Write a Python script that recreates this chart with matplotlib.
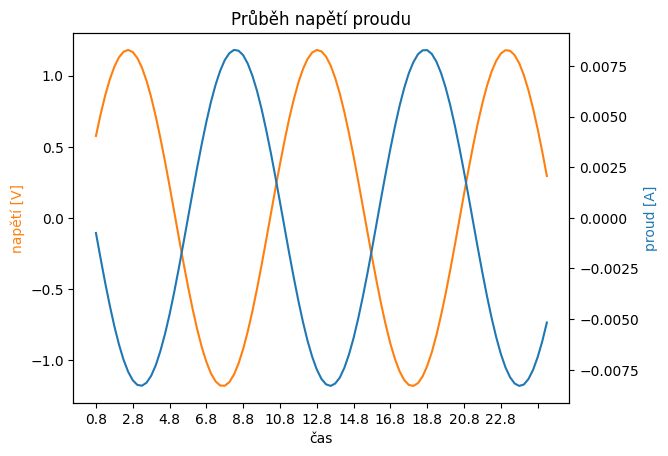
import numpy as np
import matplotlib
matplotlib.use("Agg")
import matplotlib.pyplot as plt

# time axis, step 0.25
cas = [0.8 + 0.25 * k for k in range(99)]

napeti = [0.576, 0.726, 0.859, 0.972, 1.062, 1.128, 1.167, 1.180, 1.165, 1.123,
          1.055, 0.963, 0.848, 0.713, 0.562, 0.398, 0.225, 0.046, -0.134, -0.310,
          -0.479, -0.637, -0.781, -0.906, -1.010, -1.092, -1.147, -1.176, -1.178, -1.152,
          -1.099, -1.021, -0.919, -0.796, -0.655, -0.498, -0.330, -0.154, 0.026, 0.205,
          0.379, 0.544, 0.697, 0.833, 0.951, 1.046, 1.117, 1.162, 1.180, 1.170,
          1.134, 1.071, 0.983, 0.873, 0.742, 0.594, 0.432, 0.260, 0.082, -0.097,
          -0.275, -0.446, -0.607, -0.753, -0.883, -0.991, -1.077, -1.138, -1.172, -1.179,
          -1.159, -1.112, -1.038, -0.942, -0.823, -0.684, -0.531, -0.365, -0.190, -0.011,
          0.169, 0.344, 0.512, 0.667, 0.807, 0.929, 1.029, 1.104, 1.155, 1.178,
          1.174, 1.143, 1.086, 1.003, 0.897, 0.769, 0.625, 0.466, 0.295]

proud = [-0.00075, -0.00199, -0.00320, -0.00432, -0.00535, -0.00625, -0.00701, -0.00760, -0.00802, -0.00825,
         -0.00829, -0.00814, -0.00780, -0.00728, -0.00658, -0.00574, -0.00477, -0.00368, -0.00250, -0.00127,
         -0.00001, 0.00125, 0.00248, 0.00365, 0.00474, 0.00573, 0.00657, 0.00726, 0.00779, 0.00813,
         0.00829, 0.00825, 0.00803, 0.00761, 0.00702, 0.00627, 0.00537, 0.00434, 0.00322, 0.00202,
         0.00077, -0.00049, -0.00175, -0.00296, -0.00410, -0.00515, -0.00608, -0.00686, -0.00749, -0.00795,
         -0.00822, -0.00830, -0.00818, -0.00789, -0.00740, -0.00674, -0.00593, -0.00497, -0.00390, -0.00275,
         -0.00153, -0.00027, 0.00100, 0.00223, 0.00342, 0.00453, 0.00554, 0.00641, 0.00714, 0.00769,
         0.00808, 0.00827, 0.00828, 0.00809, 0.00771, 0.00715, 0.00643, 0.00556, 0.00456, 0.00345,
         0.00227, 0.00103, -0.00024, -0.00150, -0.00272, -0.00388, -0.00495, -0.00590, -0.00672, -0.00738,
         -0.00787, -0.00818, -0.00830, -0.00823, -0.00796, -0.00751, -0.00688, -0.00610, -0.00517]

tick_pos = [0.8 + 2 * k for k in range(13)]
tick_labels = ["%.1f" % t for t in tick_pos[:-1]] + [""]

fig, ax1 = plt.subplots(figsize=(6.4, 4.8), dpi=100)
ax1.plot(cas, napeti, color="C1")
ax1.set_ylabel("napětí [V]", color="C1")
ax1.set_xlabel("čas")
ax1.set_xticks(tick_pos)
ax1.set_xticklabels(tick_labels)

ax2 = ax1.twinx()
ax2.plot(cas, proud, color="C0")
ax2.set_ylabel("proud [A]", color="C0")

plt.title("Průběh napětí proudu")
plt.savefig("out.png", bbox_inches="tight")
